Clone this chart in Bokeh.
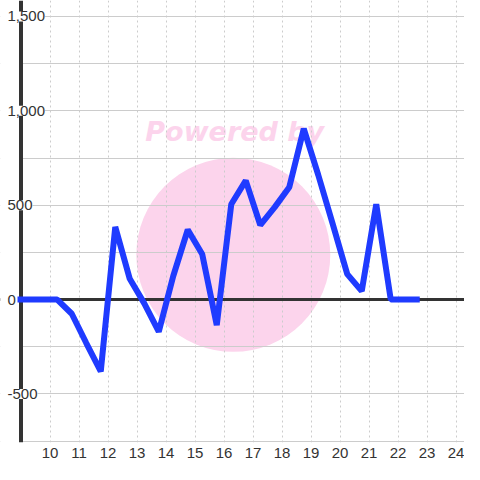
from bokeh.plotting import figure
from bokeh.models import (ColumnDataSource, Span, LabelSet, Label, FixedTicker,
                          Range1d, BoxAnnotation)
from bokeh.core.properties import value
from bokeh.embed import file_html
from bokeh.resources import INLINE

# ---- data ----
hours = [8.88, 9.25, 9.75, 10.25, 10.75, 11.25, 11.75, 12.25, 12.75, 13.25,
         13.75, 14.25, 14.75, 15.25, 15.75, 16.25, 16.75, 17.25, 17.75, 18.25,
         18.75, 19.25, 19.75, 20.25, 20.75, 21.25, 21.75, 22.25, 22.75]
values = [0, 0, 0, 0, -75, -230, -380, 385, 110, -20,
          -170, 125, 370, 240, -135, 505, 630, 395, 490, 595,
          905, 660, 400, 135, 45, 505, 0, 0, 0]
x_ticks = [10, 11, 12, 13, 14, 15, 16, 17, 18, 19, 20, 21, 22, 23, 24]
y_ticks = [-500, 0, 500, 1000, 1500]
y_tick_labels = ["-500", "0", "500", "1,000", "1,500"]
y_grid = [-750, -500, -250, 0, 250, 500, 750, 1000, 1250, 1500]
x_start = 9

GRID = "#cccccc"
DARK = "#333333"
PINK = "#fcd4ec"

p = figure(width=464, height=464, output_backend="svg", toolbar_location=None,
           x_range=Range1d(8.2931, 24.293), y_range=Range1d(-757, 1584.5),
           min_border_left=0, min_border_right=0, min_border_top=0,
           min_border_bottom=22)
p.outline_line_color = None
p.background_fill_color = "white"

p.yaxis.visible = False
p.ygrid.ticker = FixedTicker(ticks=y_grid)
p.ygrid.grid_line_color = GRID
p.ygrid.grid_line_width = 1

p.xaxis.ticker = FixedTicker(ticks=x_ticks)
p.xaxis.axis_line_color = None
p.xaxis.major_tick_line_color = None
p.xaxis.minor_tick_line_color = None
p.xaxis.major_tick_out = 0
p.xaxis.major_tick_in = 0
p.xaxis.major_label_standoff = 5
p.xaxis.major_label_text_font = "Liberation Sans"
p.xaxis.major_label_text_font_size = "15px"
p.xaxis.major_label_text_color = DARK
p.xgrid.ticker = FixedTicker(ticks=x_ticks)
p.xgrid.grid_line_color = GRID
p.xgrid.grid_line_dash = "2 3"
p.xgrid.grid_line_width = 1

# watermark
p.scatter([16.32], [237], size=194, marker="circle", fill_color=PINK,
          line_color=None, level="image")
p.add_layout(Label(x=16.37, y=890, text="Powered by", text_font="DejaVu Sans",
                   text_font_style="bold italic", text_font_size="27px",
                   text_color=PINK, text_align="center", text_baseline="middle",
                   level="image"))

# zero line, blank strip left of the axis, left axis line
p.add_layout(Span(location=0, dimension="width", line_color=DARK,
                  line_width=3, level="underlay"))
p.add_layout(BoxAnnotation(right=x_start, fill_color="white", fill_alpha=1,
                           line_color=None, level="underlay"))
p.add_layout(Span(location=x_start, dimension="height", line_color=DARK,
                  line_width=4, level="underlay"))

p.line(hours, values, line_width=6, line_color="#1f3bff")

src = ColumnDataSource(dict(y=y_ticks, text=y_tick_labels))
p.add_layout(LabelSet(x=x_start, y="y", text="text", source=src, x_offset=-13.5,
                      text_align="left", text_baseline="middle",
                      text_font=value("Liberation Sans"), text_font_size="15px",
                      text_color=DARK, background_fill_color="white"))

open("out.html", "w").write(file_html(p, INLINE))
